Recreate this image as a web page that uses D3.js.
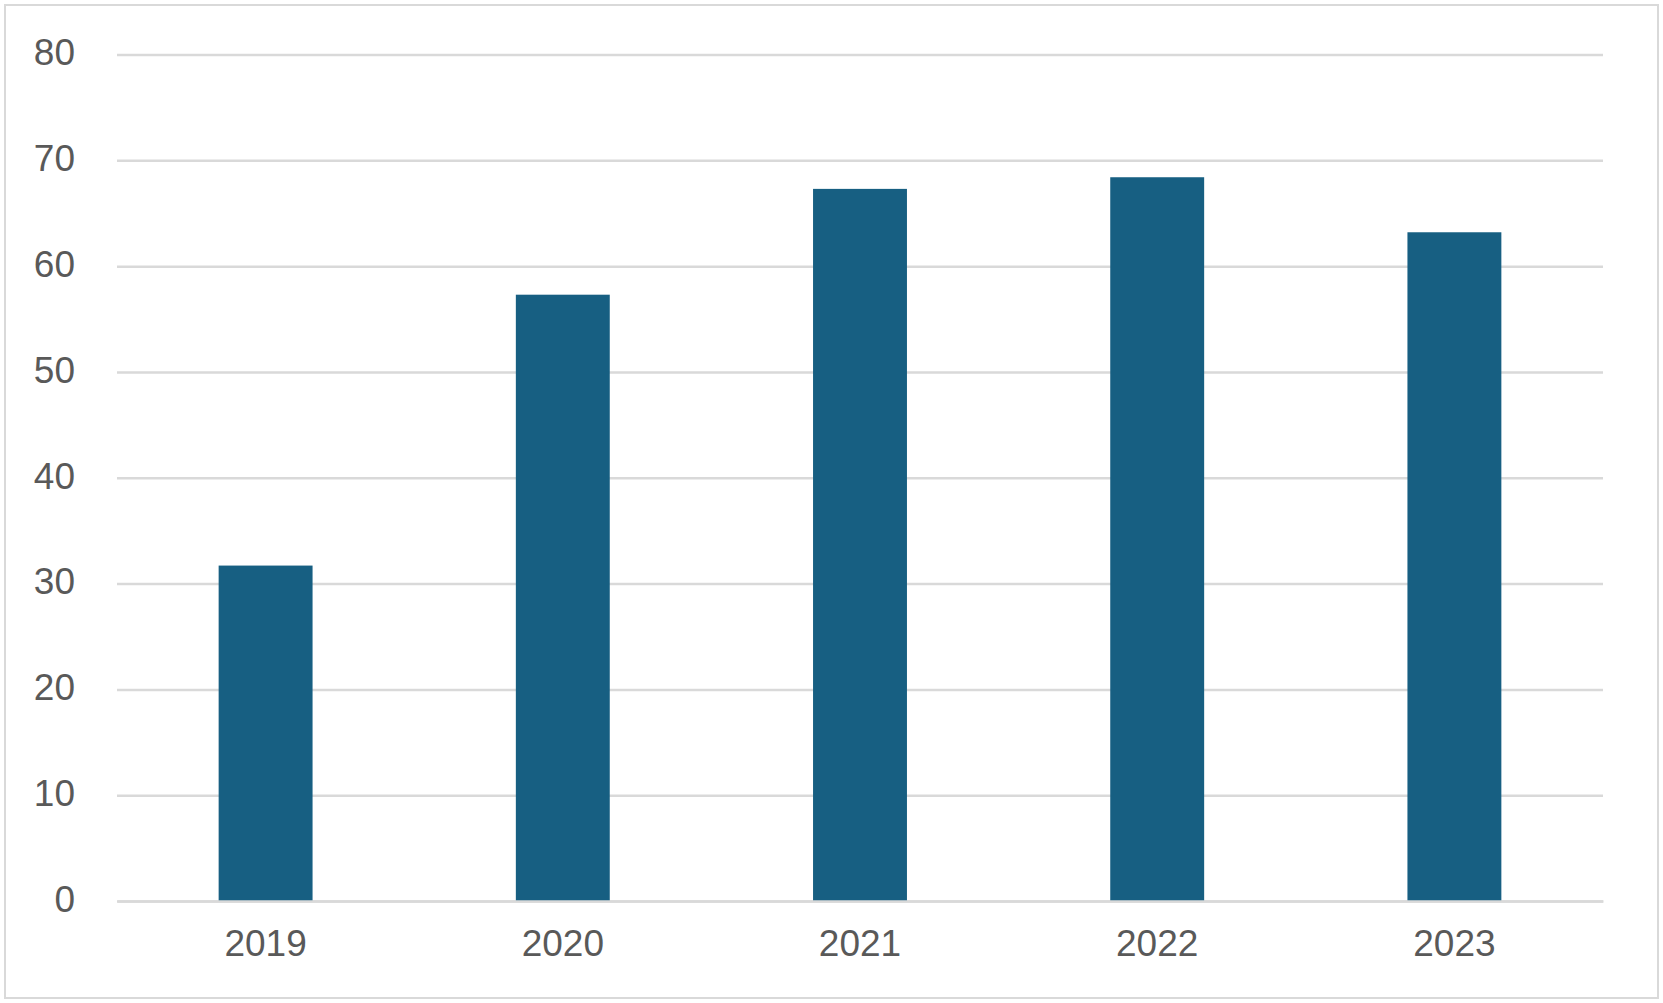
<!DOCTYPE html>
<html>
<head>
<meta charset="utf-8">
<script src="https://cdn.jsdelivr.net/npm/d3@7"></script>
<style>
  html, body { margin: 0; padding: 0; background: #ffffff; }
  svg { display: block; }
</style>
</head>
<body>
<svg id="chart" width="1663" height="1003"></svg>
<script>
const categories = ["2019", "2020", "2021", "2022", "2023"];
const values = [31.7, 57.3, 67.3, 68.4, 63.2];
const yTicks = [0, 10, 20, 30, 40, 50, 60, 70, 80];

const W = 1663, H = 1003;
const margin = { left: 117, right: 60, top: 54.5, bottom: 102 };
const svg = d3.select("#chart");

// outer border
svg.append("rect")
  .attr("x", 5).attr("y", 5)
  .attr("width", W - 10).attr("height", H - 10)
  .attr("fill", "#ffffff")
  .attr("stroke", "#d9d9d9")
  .attr("stroke-width", 2);

const x = d3.scaleBand()
  .domain(categories)
  .range([margin.left, W - margin.right])
  .paddingInner(0.684)
  .paddingOuter(0.342);

const y = d3.scaleLinear()
  .domain([0, 80])
  .range([H - margin.bottom, margin.top]);

// gridlines
const yAxis = d3.axisLeft(y)
  .tickValues(yTicks)
  .tickSize(-(W - margin.right - margin.left))
  .tickPadding(42)
  .tickFormat(d3.format("d"));

const gy = svg.append("g")
  .attr("transform", `translate(${margin.left},0)`)
  .call(yAxis);
gy.select(".domain").remove();
gy.selectAll(".tick line").attr("stroke", "#d9d9d9").attr("stroke-width", 2.5);
gy.selectAll(".tick text")
  .attr("fill", "#595959")
  .attr("dy", "0.28em")
  .style("font-family", "'Liberation Sans', Arial, sans-serif")
  .style("font-size", "37px");

// bars
svg.append("g").selectAll("rect")
  .data(values)
  .join("rect")
  .attr("x", (d, i) => x(categories[i]))
  .attr("width", x.bandwidth())
  .attr("y", d => y(d))
  .attr("height", d => y(0) - y(d))
  .attr("fill", "#175f82");

// x axis
const xAxis = d3.axisBottom(x).tickSize(0).tickPadding(29);
const gx = svg.append("g")
  .attr("transform", `translate(0,${y(0)})`)
  .call(xAxis);
gx.select(".domain")
  .attr("stroke", "#d9d9d9")
  .attr("stroke-width", 2.5);
gx.selectAll(".tick text")
  .attr("fill", "#595959")
  .style("font-family", "'Liberation Sans', Arial, sans-serif")
  .style("font-size", "37px");
</script>
</body>
</html>
